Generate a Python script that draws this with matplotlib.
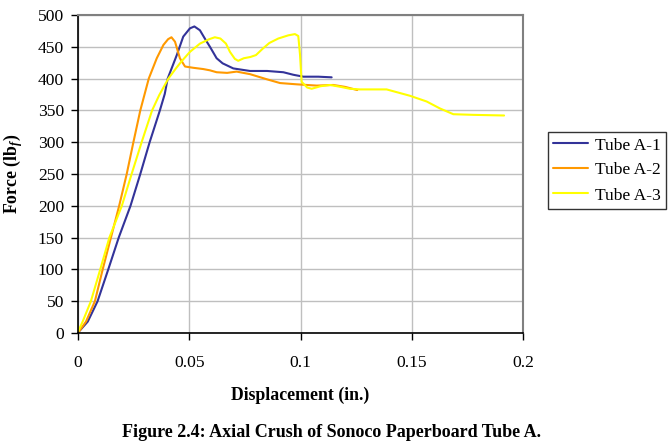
import matplotlib
matplotlib.use("Agg")
import matplotlib.pyplot as plt

plt.rcParams['font.family'] = ['Liberation Serif', 'DejaVu Serif']
plt.rcParams['mathtext.fontset'] = 'custom'
plt.rcParams['mathtext.rm'] = 'Liberation Serif:bold'
plt.rcParams['mathtext.it'] = 'Liberation Serif:bold:italic'
plt.rcParams['mathtext.bf'] = 'Liberation Serif:bold'

# Tube A-1
a1_x = [0, 0.0006, 0.0044, 0.0088, 0.0136, 0.0183, 0.0236, 0.0280, 0.0322,
        0.0368, 0.0390, 0.0403, 0.0444, 0.0473, 0.0503, 0.0523, 0.0548, 0.0570,
        0.0593, 0.0623, 0.0650, 0.0698, 0.0773, 0.0850, 0.0923, 0.0968, 0.1013,
        0.1080, 0.1140]
a1_y = [2, 3, 18, 50, 100, 150, 200, 250, 300,
        350, 376, 400, 437, 466, 479, 482, 476, 463,
        450, 432, 424, 416, 412, 412, 410, 406, 403,
        403, 402]

# Tube A-2
a2_x = [0, 0.0006, 0.0036, 0.0076, 0.0111, 0.0148, 0.0185, 0.0219, 0.0249, 0.0280,
        0.0318, 0.0354, 0.0384, 0.0405, 0.0420, 0.0436, 0.0458, 0.0481, 0.0518,
        0.0563, 0.0593, 0.0623, 0.0670, 0.0713, 0.0773, 0.0848, 0.0908, 0.0983,
        0.1073, 0.1147, 0.1200, 0.1255]
a2_y = [2, 3, 18, 50, 100, 150, 200, 250, 300, 350,
        400, 432, 453, 462, 465, 458, 432, 419, 417,
        415, 413, 410, 409, 411, 407, 399, 393, 391,
        389, 390, 387, 382]

# Tube A-3
a3_x = [0, 0.0021, 0.0058, 0.0100, 0.0141, 0.0197, 0.0241, 0.0286, 0.0333, 0.0365,
        0.0406, 0.0440, 0.0465, 0.0503, 0.0548, 0.0590, 0.0615, 0.0640, 0.0665,
        0.0683, 0.0705, 0.0720, 0.0745, 0.0775, 0.0800, 0.0830, 0.0860, 0.0900,
        0.0945, 0.0975, 0.0990, 0.0998, 0.1005, 0.1030, 0.1050, 0.1090, 0.1133,
        0.1180, 0.1222, 0.1267, 0.1387, 0.1492, 0.1567, 0.1627, 0.1687, 0.1777,
        0.1915]
a3_y = [2, 18, 50, 100, 150, 200, 250, 300, 350, 374,
        400, 416, 427, 442, 455, 462, 465, 463, 455,
        442, 431, 428, 432, 434, 437, 447, 456, 463,
        468, 470, 467, 437, 395, 386, 384, 388, 390,
        387, 384, 383, 383, 373, 364, 353, 344, 343,
        342]

series = [("Tube A-1", a1_x, a1_y, "#333399"),
          ("Tube A-2", a2_x, a2_y, "#FF9900"),
          ("Tube A-3", a3_x, a3_y, "#FFFF00")]

xticks = [0, 0.05, 0.1, 0.15, 0.2]
xtick_labels = ["0", "0.05", "0.1", "0.15", "0.2"]
yticks = [0, 50, 100, 150, 200, 250, 300, 350, 400, 450, 500]

fig = plt.figure(figsize=(6.72, 4.44), dpi=100)
ax = fig.add_axes([78/672, 111/444, 445/672, 318/444])

for name, xs, ys, c in series:
    ax.plot(xs, ys, color=c, lw=1.5, label=name,
            solid_joinstyle='round', solid_capstyle='round')

ax.set_xlim(0, 0.2)
ax.set_ylim(0, 500)
ax.set_xticks(xticks)
ax.set_xticklabels(xtick_labels)
ax.set_yticks(yticks)
ax.grid(True, color='#bfbfbf', lw=1)
ax.set_axisbelow(True)
for s in ['top', 'right']:
    ax.spines[s].set_color('#808080')
    ax.spines[s].set_linewidth(1.5)
for s in ['left', 'bottom']:
    ax.spines[s].set_color('black')
    ax.spines[s].set_linewidth(1.2)
ax.tick_params(axis='x', direction='out', length=5, pad=11, labelsize=12.6, width=1)
ax.tick_params(axis='y', direction='out', length=5, pad=5, labelsize=12.6, width=1)

ax.set_xlabel("Displacement (in.)", fontsize=12.8, fontweight='bold', labelpad=11)
ax.set_ylabel(r"Force (lb$_{f}$)", fontsize=12.8, fontweight='bold', labelpad=9)

leg = ax.legend(loc='upper left', bbox_to_anchor=(548/672, (444-132)/444),
                bbox_transform=fig.transFigure, frameon=True, fancybox=False,
                fontsize=12.6, handlelength=2.0, handletextpad=0.4,
                borderpad=0.3, labelspacing=0.5, borderaxespad=0)
leg.get_frame().set_edgecolor('black')
leg.get_frame().set_linewidth(1)

fig.text(332/672, 1 - 432/444, "Figure 2.4: Axial Crush of Sonoco Paperboard Tube A.",
         ha='center', va='center', fontsize=13, fontweight='bold')

fig.savefig("out.png", dpi=100)
